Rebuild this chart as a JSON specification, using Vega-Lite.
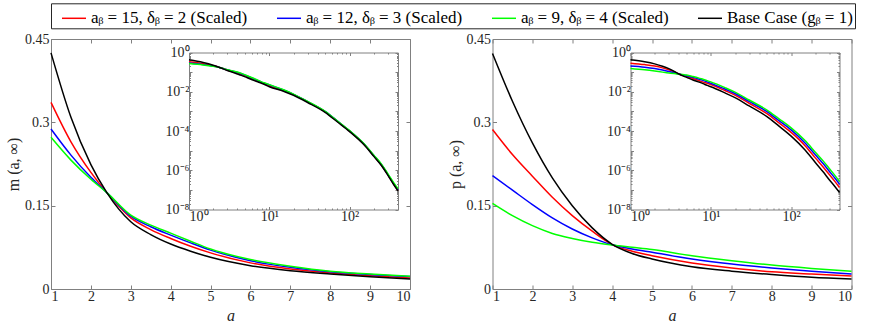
{
 "$schema": "https://vega.github.io/schema/vega-lite/v6.json",
 "padding": {"left": 5, "top": 2, "right": 0, "bottom": 0},
 "datasets": {
  "m": [
   {"a":1,"s":"A","v":0.336},{"a":1.5,"s":"A","v":0.265},{"a":2,"s":"A","v":0.210},{"a":2.4,"s":"A","v":0.1735},{"a":3,"s":"A","v":0.128},{"a":3.5,"s":"A","v":0.107},{"a":4,"s":"A","v":0.091},{"a":4.5,"s":"A","v":0.077},{"a":5,"s":"A","v":0.065},{"a":6,"s":"A","v":0.047},{"a":7,"s":"A","v":0.036},{"a":8,"s":"A","v":0.029},{"a":9,"s":"A","v":0.024},{"a":10,"s":"A","v":0.020},{"a":15,"s":"A","v":0.0115},{"a":20,"s":"A","v":0.0071},{"a":30,"s":"A","v":0.00305},{"a":50,"s":"A","v":0.00093},{"a":70,"s":"A","v":0.000315},{"a":100,"s":"A","v":0.000099},{"a":150,"s":"A","v":0.0000217},{"a":200,"s":"A","v":0.0000054},{"a":250,"s":"A","v":0.0000018},{"a":300,"s":"A","v":5.8e-7},{"a":350,"s":"A","v":2.1e-7},{"a":400,"s":"A","v":9.3e-8},
   {"a":1,"s":"B","v":0.288},{"a":1.5,"s":"B","v":0.241},{"a":2,"s":"B","v":0.201},{"a":2.4,"s":"B","v":0.1735},{"a":3,"s":"B","v":0.131},{"a":3.5,"s":"B","v":0.112},{"a":4,"s":"B","v":0.097},{"a":4.5,"s":"B","v":0.083},{"a":5,"s":"B","v":0.070},{"a":6,"s":"B","v":0.051},{"a":7,"s":"B","v":0.039},{"a":8,"s":"B","v":0.031},{"a":9,"s":"B","v":0.026},{"a":10,"s":"B","v":0.0225},{"a":15,"s":"B","v":0.0122},{"a":20,"s":"B","v":0.0074},{"a":30,"s":"B","v":0.00315},{"a":50,"s":"B","v":0.00096},{"a":70,"s":"B","v":0.000325},{"a":100,"s":"B","v":0.000102},{"a":150,"s":"B","v":0.0000223},{"a":200,"s":"B","v":0.0000056},{"a":250,"s":"B","v":0.00000186},{"a":300,"s":"B","v":6.0e-7},{"a":350,"s":"B","v":2.2e-7},{"a":400,"s":"B","v":9.7e-8},
   {"a":1,"s":"C","v":0.273},{"a":1.5,"s":"C","v":0.232},{"a":2,"s":"C","v":0.1975},{"a":2.4,"s":"C","v":0.1735},{"a":3,"s":"C","v":0.133},{"a":3.5,"s":"C","v":0.115},{"a":4,"s":"C","v":0.1005},{"a":4.5,"s":"C","v":0.086},{"a":5,"s":"C","v":0.072},{"a":6,"s":"C","v":0.053},{"a":7,"s":"C","v":0.041},{"a":8,"s":"C","v":0.032},{"a":9,"s":"C","v":0.027},{"a":10,"s":"C","v":0.023},{"a":15,"s":"C","v":0.0126},{"a":20,"s":"C","v":0.0076},{"a":30,"s":"C","v":0.0032},{"a":50,"s":"C","v":0.00097},{"a":70,"s":"C","v":0.00033},{"a":100,"s":"C","v":0.000104},{"a":150,"s":"C","v":0.000023},{"a":200,"s":"C","v":0.0000059},{"a":250,"s":"C","v":0.000002},{"a":300,"s":"C","v":6.6e-7},{"a":350,"s":"C","v":2.5e-7},{"a":400,"s":"C","v":1.15e-7},
   {"a":1,"s":"D","v":0.425},{"a":1.5,"s":"D","v":0.309},{"a":2,"s":"D","v":0.224},{"a":2.4,"s":"D","v":0.1735},{"a":3,"s":"D","v":0.121},{"a":3.5,"s":"D","v":0.098},{"a":4,"s":"D","v":0.081},{"a":4.5,"s":"D","v":0.068},{"a":5,"s":"D","v":0.057},{"a":6,"s":"D","v":0.042},{"a":7,"s":"D","v":0.033},{"a":8,"s":"D","v":0.027},{"a":9,"s":"D","v":0.022},{"a":10,"s":"D","v":0.018},{"a":15,"s":"D","v":0.0107},{"a":20,"s":"D","v":0.0066},{"a":30,"s":"D","v":0.00284},{"a":50,"s":"D","v":0.00087},{"a":70,"s":"D","v":0.000295},{"a":100,"s":"D","v":0.000093},{"a":150,"s":"D","v":0.0000204},{"a":200,"s":"D","v":0.0000051},{"a":250,"s":"D","v":0.0000017},{"a":300,"s":"D","v":5.5e-7},{"a":350,"s":"D","v":2.0e-7},{"a":400,"s":"D","v":8.9e-8}
  ],
  "p": [
   {"a":1,"s":"A","v":0.287},{"a":1.5,"s":"A","v":0.242},{"a":2,"s":"A","v":0.203},{"a":2.5,"s":"A","v":0.165},{"a":3,"s":"A","v":0.132},{"a":3.5,"s":"A","v":0.104},{"a":4,"s":"A","v":0.0800},{"a":4.5,"s":"A","v":0.068},{"a":5,"s":"A","v":0.060},{"a":6,"s":"A","v":0.047},{"a":7,"s":"A","v":0.038},{"a":8,"s":"A","v":0.031},{"a":9,"s":"A","v":0.027},{"a":10,"s":"A","v":0.0233},{"a":15,"s":"A","v":0.0115},{"a":20,"s":"A","v":0.00676},{"a":30,"s":"A","v":0.0026},{"a":50,"s":"A","v":0.00076},{"a":70,"s":"A","v":0.000269},{"a":100,"s":"A","v":0.000085},{"a":150,"s":"A","v":0.0000174},{"a":200,"s":"A","v":0.00000427},{"a":250,"s":"A","v":0.00000148},{"a":300,"s":"A","v":5.9e-7},{"a":350,"s":"A","v":2.7e-7},{"a":400,"s":"A","v":1.32e-7},
   {"a":1,"s":"B","v":0.204},{"a":1.5,"s":"B","v":0.178},{"a":2,"s":"B","v":0.152},{"a":2.5,"s":"B","v":0.128},{"a":3,"s":"B","v":0.108},{"a":3.5,"s":"B","v":0.092},{"a":4,"s":"B","v":0.0795},{"a":4.5,"s":"B","v":0.072},{"a":5,"s":"B","v":0.066},{"a":6,"s":"B","v":0.054},{"a":7,"s":"B","v":0.045},{"a":8,"s":"B","v":0.038},{"a":9,"s":"B","v":0.032},{"a":10,"s":"B","v":0.027},{"a":15,"s":"B","v":0.0138},{"a":20,"s":"B","v":0.0081},{"a":30,"s":"B","v":0.0032},{"a":50,"s":"B","v":0.00097},{"a":70,"s":"B","v":0.000347},{"a":100,"s":"B","v":0.000114},{"a":150,"s":"B","v":0.000024},{"a":200,"s":"B","v":0.0000062},{"a":250,"s":"B","v":0.0000022},{"a":300,"s":"B","v":8.7e-7},{"a":350,"s":"B","v":4.0e-7},{"a":400,"s":"B","v":1.95e-7},
   {"a":1,"s":"C","v":0.154},{"a":1.5,"s":"C","v":0.132},{"a":2,"s":"C","v":0.114},{"a":2.5,"s":"C","v":0.100},{"a":3,"s":"C","v":0.091},{"a":3.5,"s":"C","v":0.084},{"a":4,"s":"C","v":0.0790},{"a":4.5,"s":"C","v":0.075},{"a":5,"s":"C","v":0.071},{"a":6,"s":"C","v":0.060},{"a":7,"s":"C","v":0.051},{"a":8,"s":"C","v":0.043},{"a":9,"s":"C","v":0.037},{"a":10,"s":"C","v":0.032},{"a":15,"s":"C","v":0.0162},{"a":20,"s":"C","v":0.0095},{"a":30,"s":"C","v":0.0038},{"a":50,"s":"C","v":0.00117},{"a":70,"s":"C","v":0.000427},{"a":100,"s":"C","v":0.000145},{"a":150,"s":"C","v":0.0000316},{"a":200,"s":"C","v":0.0000083},{"a":250,"s":"C","v":0.000003},{"a":300,"s":"C","v":0.0000012},{"a":350,"s":"C","v":5.5e-7},{"a":400,"s":"C","v":2.7e-7},
   {"a":1,"s":"D","v":0.424},{"a":1.5,"s":"D","v":0.338},{"a":2,"s":"D","v":0.263},{"a":2.5,"s":"D","v":0.200},{"a":3,"s":"D","v":0.150},{"a":3.5,"s":"D","v":0.110},{"a":4,"s":"D","v":0.0805},{"a":4.5,"s":"D","v":0.064},{"a":5,"s":"D","v":0.054},{"a":6,"s":"D","v":0.040},{"a":7,"s":"D","v":0.032},{"a":8,"s":"D","v":0.026},{"a":9,"s":"D","v":0.021},{"a":10,"s":"D","v":0.018},{"a":15,"s":"D","v":0.0087},{"a":20,"s":"D","v":0.0050},{"a":30,"s":"D","v":0.0019},{"a":50,"s":"D","v":0.000537},{"a":70,"s":"D","v":0.000182},{"a":100,"s":"D","v":0.000055},{"a":150,"s":"D","v":0.0000105},{"a":200,"s":"D","v":0.0000025},{"a":250,"s":"D","v":8.3e-7},{"a":300,"s":"D","v":3.2e-7},{"a":350,"s":"D","v":1.5e-7},{"a":400,"s":"D","v":7.4e-8}
  ]
 },
 "hconcat": [
  {
   "width": 359, "height": 250,
   "layer": [
    {"data": {"name": "m"}, "transform": [{"filter": "datum.a <= 10"}],
     "mark": {"type": "line", "strokeWidth": 1.5, "interpolate": "monotone"},
     "encoding": {
      "x": {"field": "a", "type": "quantitative", "scale": {"domain": [1, 10], "nice": false, "zero": false},
            "axis": {"orient": "bottom", "values": [1,2,3,4,5,6,7,8,9,10], "tickSize": -4, "labelPadding": 4, "labelFont": "Liberation Serif", "title": "a", "titleFontStyle": "italic", "titlePadding": 4}},
      "y": {"field": "v", "type": "quantitative", "scale": {"domain": [0, 0.45], "nice": false, "zero": false},
            "axis": {"orient": "left", "values": [0, 0.15, 0.3, 0.45], "format": ".2~f", "tickSize": -4, "labelPadding": 6, "labelFont": "Liberation Serif", "title": "m (a, ∞)", "titlePadding": 3}},
      "color": {"field": "s", "type": "nominal", "title": null, "scale": {"domain": ["A","B","C","D"], "range": ["#ff0000","#0000ff","#00ff00","#000000"]},
        "legend": {"orient": "none", "legendX": 0, "legendY": -35.7, "direction": "horizontal", "columns": 4, "columnPadding": 20, "symbolType": "stroke", "symbolSize": 576, "symbolStrokeWidth": 1.5, "symbolOffset": 8, "labelFont": "Liberation Serif", "labelFontSize": 17, "labelColor": "#000000", "labelOffset": 4, "labelLimit": 400, "strokeColor": "#262626", "fillColor": "#ffffff", "padding": 2,
          "labelExpr": "datum.label == 'A' ? 'aᵦ = 15, δᵦ = 2 (Scaled)' : datum.label == 'B' ? 'aᵦ = 12, δᵦ = 3 (Scaled)' : datum.label == 'C' ? 'aᵦ = 9, δᵦ = 4 (Scaled)' : 'Base Case (gᵦ = 1)'"}}
     }},
    {"data": {"name": "m"}, "transform": [{"filter": "datum.a <= 10"}],
     "mark": {"type": "line", "strokeOpacity": 0},
     "encoding": {
      "x": {"field": "a", "type": "quantitative", "scale": {"domain": [1, 10], "nice": false, "zero": false},
            "axis": {"orient": "top", "values": [1,2,3,4,5,6,7,8,9,10], "tickSize": -4, "labels": false, "title": null}},
      "y": {"field": "v", "type": "quantitative", "scale": {"domain": [0, 0.45], "nice": false, "zero": false},
            "axis": {"orient": "right", "values": [0, 0.15, 0.3, 0.45], "tickSize": -4, "labels": false, "title": null}}
     }},
    {"data": {"name": "m"},
     "mark": {"type": "line", "strokeWidth": 1.5, "interpolate": "monotone"},
     "encoding": {
      "x": {"field": "a", "type": "quantitative", "scale": {"type": "log", "domain": [1, 400], "range": [138, 347], "nice": false},
            "axis": {"orient": "bottom", "offset": -79.5, "values": [1,2,3,4,5,6,7,8,9,10,20,30,40,50,60,70,80,90,100,200,300,400], "labelOverlap": false, "tickSize": {"condition": {"test": "abs(log(datum.value)/LN10 - round(log(datum.value)/LN10)) < 0.01", "value": -3}, "value": -1.5}, "labelPadding": 3, "labelFont": "Liberation Serif", "labelExpr": "datum.value == 1 ? '10⁰' : datum.value == 10 ? '10¹' : datum.value == 100 ? '10²' : ''", "title": null}},
      "y": {"field": "v", "type": "quantitative", "scale": {"type": "log", "domain": [1e-8, 1], "range": [170.5, 13.5], "nice": false},
            "axis": {"orient": "left", "offset": -138, "values": [1e-8,2e-8,3e-8,4e-8,5e-8,6e-8,7e-8,8e-8,9e-8,1e-7,2e-7,3e-7,4e-7,5e-7,6e-7,7e-7,8e-7,9e-7,1e-6,2e-6,3e-6,4e-6,5e-6,6e-6,7e-6,8e-6,9e-6,1e-5,2e-5,3e-5,4e-5,5e-5,6e-5,7e-5,8e-5,9e-5,1e-4,2e-4,3e-4,4e-4,5e-4,6e-4,7e-4,8e-4,9e-4,0.001,0.002,0.003,0.004,0.005,0.006,0.007,0.008,0.009,0.01,0.02,0.03,0.04,0.05,0.06,0.07,0.08,0.09,0.1,0.2,0.3,0.4,0.5,0.6,0.7,0.8,0.9,1], "labelOverlap": false, "tickSize": {"condition": {"test": "abs(log(datum.value)/LN10 - round(log(datum.value)/LN10)) < 0.01", "value": -3}, "value": -1.5}, "labelPadding": 3, "labelFont": "Liberation Serif", "labelExpr": "abs(log(datum.value)/LN10 - round(log(datum.value)/LN10)) < 0.01 ? ['10⁰','','10⁻²','','10⁻⁴','','10⁻⁶','','10⁻⁸'][-round(log(datum.value)/LN10)] : ''", "title": null}},
      "color": {"field": "s", "type": "nominal", "title": null, "scale": {"domain": ["A","B","C","D"], "range": ["#ff0000","#0000ff","#00ff00","#000000"]}}
     }},
    {"data": {"name": "m"},
     "mark": {"type": "line", "strokeOpacity": 0},
     "encoding": {
      "x": {"field": "a", "type": "quantitative", "scale": {"type": "log", "domain": [1, 400], "range": [138, 347], "nice": false},
            "axis": {"orient": "top", "offset": -13.5, "values": [1,2,3,4,5,6,7,8,9,10,20,30,40,50,60,70,80,90,100,200,300,400], "tickSize": {"condition": {"test": "abs(log(datum.value)/LN10 - round(log(datum.value)/LN10)) < 0.01", "value": -3}, "value": -1.5}, "labels": false, "title": null}},
      "y": {"field": "v", "type": "quantitative", "scale": {"type": "log", "domain": [1e-8, 1], "range": [170.5, 13.5], "nice": false},
            "axis": {"orient": "right", "offset": -12, "values": [1e-8,2e-8,3e-8,4e-8,5e-8,6e-8,7e-8,8e-8,9e-8,1e-7,2e-7,3e-7,4e-7,5e-7,6e-7,7e-7,8e-7,9e-7,1e-6,2e-6,3e-6,4e-6,5e-6,6e-6,7e-6,8e-6,9e-6,1e-5,2e-5,3e-5,4e-5,5e-5,6e-5,7e-5,8e-5,9e-5,1e-4,2e-4,3e-4,4e-4,5e-4,6e-4,7e-4,8e-4,9e-4,0.001,0.002,0.003,0.004,0.005,0.006,0.007,0.008,0.009,0.01,0.02,0.03,0.04,0.05,0.06,0.07,0.08,0.09,0.1,0.2,0.3,0.4,0.5,0.6,0.7,0.8,0.9,1], "tickSize": {"condition": {"test": "abs(log(datum.value)/LN10 - round(log(datum.value)/LN10)) < 0.01", "value": -3}, "value": -1.5}, "labels": false, "title": null}}
     }}
   ],
   "resolve": {"scale": {"x": "independent", "y": "independent"}, "axis": {"x": "independent", "y": "independent"}}
  },
  {
   "width": 359, "height": 250,
   "layer": [
    {"data": {"name": "p"}, "transform": [{"filter": "datum.a <= 10"}],
     "mark": {"type": "line", "strokeWidth": 1.5, "interpolate": "monotone"},
     "encoding": {
      "x": {"field": "a", "type": "quantitative", "scale": {"domain": [1, 10], "nice": false, "zero": false},
            "axis": {"orient": "bottom", "values": [1,2,3,4,5,6,7,8,9,10], "tickSize": -4, "labelPadding": 4, "labelFont": "Liberation Serif", "title": "a", "titleFontStyle": "italic", "titlePadding": 4}},
      "y": {"field": "v", "type": "quantitative", "scale": {"domain": [0, 0.45], "nice": false, "zero": false},
            "axis": {"orient": "left", "values": [0, 0.15, 0.3, 0.45], "format": ".2~f", "tickSize": -4, "labelPadding": 6, "labelFont": "Liberation Serif", "title": "p (a, ∞)", "titlePadding": 3}},
      "color": {"field": "s", "type": "nominal", "title": null, "scale": {"domain": ["A","B","C","D"], "range": ["#ff0000","#0000ff","#00ff00","#000000"]}}
     }},
    {"data": {"name": "p"}, "transform": [{"filter": "datum.a <= 10"}],
     "mark": {"type": "line", "strokeOpacity": 0},
     "encoding": {
      "x": {"field": "a", "type": "quantitative", "scale": {"domain": [1, 10], "nice": false, "zero": false},
            "axis": {"orient": "top", "values": [1,2,3,4,5,6,7,8,9,10], "tickSize": -4, "labels": false, "title": null}},
      "y": {"field": "v", "type": "quantitative", "scale": {"domain": [0, 0.45], "nice": false, "zero": false},
            "axis": {"orient": "right", "values": [0, 0.15, 0.3, 0.45], "tickSize": -4, "labels": false, "title": null}}
     }},
    {"data": {"name": "p"},
     "mark": {"type": "line", "strokeWidth": 1.5, "interpolate": "monotone"},
     "encoding": {
      "x": {"field": "a", "type": "quantitative", "scale": {"type": "log", "domain": [1, 400], "range": [138, 347], "nice": false},
            "axis": {"orient": "bottom", "offset": -79.5, "values": [1,2,3,4,5,6,7,8,9,10,20,30,40,50,60,70,80,90,100,200,300,400], "labelOverlap": false, "tickSize": {"condition": {"test": "abs(log(datum.value)/LN10 - round(log(datum.value)/LN10)) < 0.01", "value": -3}, "value": -1.5}, "labelPadding": 3, "labelFont": "Liberation Serif", "labelExpr": "datum.value == 1 ? '10⁰' : datum.value == 10 ? '10¹' : datum.value == 100 ? '10²' : ''", "title": null}},
      "y": {"field": "v", "type": "quantitative", "scale": {"type": "log", "domain": [1e-8, 1], "range": [170.5, 13.5], "nice": false},
            "axis": {"orient": "left", "offset": -138, "values": [1e-8,2e-8,3e-8,4e-8,5e-8,6e-8,7e-8,8e-8,9e-8,1e-7,2e-7,3e-7,4e-7,5e-7,6e-7,7e-7,8e-7,9e-7,1e-6,2e-6,3e-6,4e-6,5e-6,6e-6,7e-6,8e-6,9e-6,1e-5,2e-5,3e-5,4e-5,5e-5,6e-5,7e-5,8e-5,9e-5,1e-4,2e-4,3e-4,4e-4,5e-4,6e-4,7e-4,8e-4,9e-4,0.001,0.002,0.003,0.004,0.005,0.006,0.007,0.008,0.009,0.01,0.02,0.03,0.04,0.05,0.06,0.07,0.08,0.09,0.1,0.2,0.3,0.4,0.5,0.6,0.7,0.8,0.9,1], "labelOverlap": false, "tickSize": {"condition": {"test": "abs(log(datum.value)/LN10 - round(log(datum.value)/LN10)) < 0.01", "value": -3}, "value": -1.5}, "labelPadding": 3, "labelFont": "Liberation Serif", "labelExpr": "abs(log(datum.value)/LN10 - round(log(datum.value)/LN10)) < 0.01 ? ['10⁰','','10⁻²','','10⁻⁴','','10⁻⁶','','10⁻⁸'][-round(log(datum.value)/LN10)] : ''", "title": null}},
      "color": {"field": "s", "type": "nominal", "title": null, "scale": {"domain": ["A","B","C","D"], "range": ["#ff0000","#0000ff","#00ff00","#000000"]}}
     }},
    {"data": {"name": "p"},
     "mark": {"type": "line", "strokeOpacity": 0},
     "encoding": {
      "x": {"field": "a", "type": "quantitative", "scale": {"type": "log", "domain": [1, 400], "range": [138, 347], "nice": false},
            "axis": {"orient": "top", "offset": -13.5, "values": [1,2,3,4,5,6,7,8,9,10,20,30,40,50,60,70,80,90,100,200,300,400], "tickSize": {"condition": {"test": "abs(log(datum.value)/LN10 - round(log(datum.value)/LN10)) < 0.01", "value": -3}, "value": -1.5}, "labels": false, "title": null}},
      "y": {"field": "v", "type": "quantitative", "scale": {"type": "log", "domain": [1e-8, 1], "range": [170.5, 13.5], "nice": false},
            "axis": {"orient": "right", "offset": -12, "values": [1e-8,2e-8,3e-8,4e-8,5e-8,6e-8,7e-8,8e-8,9e-8,1e-7,2e-7,3e-7,4e-7,5e-7,6e-7,7e-7,8e-7,9e-7,1e-6,2e-6,3e-6,4e-6,5e-6,6e-6,7e-6,8e-6,9e-6,1e-5,2e-5,3e-5,4e-5,5e-5,6e-5,7e-5,8e-5,9e-5,1e-4,2e-4,3e-4,4e-4,5e-4,6e-4,7e-4,8e-4,9e-4,0.001,0.002,0.003,0.004,0.005,0.006,0.007,0.008,0.009,0.01,0.02,0.03,0.04,0.05,0.06,0.07,0.08,0.09,0.1,0.2,0.3,0.4,0.5,0.6,0.7,0.8,0.9,1], "tickSize": {"condition": {"test": "abs(log(datum.value)/LN10 - round(log(datum.value)/LN10)) < 0.01", "value": -3}, "value": -1.5}, "labels": false, "title": null}}
     }}
   ],
   "resolve": {"scale": {"x": "independent", "y": "independent"}, "axis": {"x": "independent", "y": "independent"}}
  }
 ],
 "spacing": 33.5,
 "resolve": {"scale": {"color": "shared"}, "legend": {"color": "shared"}},
 "config": {
  "view": {"stroke": null},
  "axis": {"grid": false, "labelFont": "Liberation Serif", "titleFont": "Liberation Serif", "labelFontSize": 14, "titleFontSize": 16, "titleFontWeight": "normal", "labelColor": "#262626", "titleColor": "#262626", "domainColor": "#808080", "tickColor": "#808080", "domainWidth": 1, "tickWidth": 1}
 }
}
